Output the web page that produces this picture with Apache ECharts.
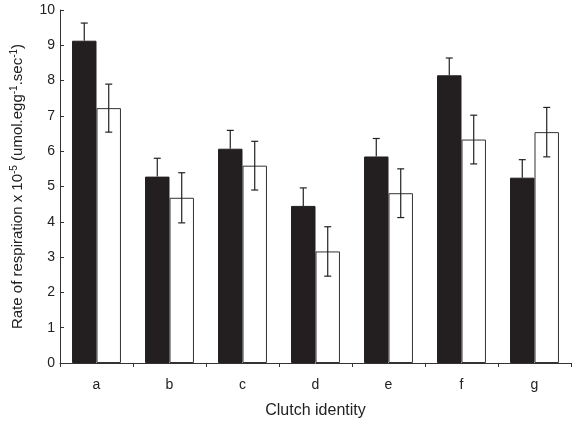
<!DOCTYPE html>
<html><head><meta charset="utf-8">
<script src="https://cdn.jsdelivr.net/npm/echarts@6/dist/echarts.min.js"></script>
<style>html,body{margin:0;padding:0;background:#fff}#c{width:581px;height:424px}</style>
</head><body><div id="c"></div>
<script>
var categories = ['a','b','c','d','e','f','g'];
var blackValues = [9.13, 5.28, 6.07, 4.45, 5.85, 8.15, 5.25];
var blackErrors = [0.50, 0.52, 0.52, 0.51, 0.51, 0.49, 0.51];
var whiteValues = [7.22, 4.68, 5.59, 3.16, 4.81, 6.33, 6.54];
var whiteErrors = [0.68, 0.71, 0.69, 0.70, 0.69, 0.69, 0.70];
var yTicks = [0,1,2,3,4,5,6,7,8,9,10];

var catGap = 0.33;
function errSeries(vals, errs, side){
  var data = vals.map(function(v,i){ return [i, v, errs[i]]; });
  return {
    type:'custom', z:10, silent:true,
    data:data,
    renderItem:function(params, api){
      var i = api.value(0), v = api.value(1), e = api.value(2);
      var cw = api.size([1,0])[0];
      var bw = cw*(1-catGap)/2;
      var c = api.coord([i, v]);
      var x = c[0] + side*bw/2;
      var top = api.coord([i, v+e])[1];
      var bot = api.coord([i, v-e])[1];
      var cap = 3.5;
      var st = {stroke:'#222', lineWidth:1.2};
      var children = [
        {type:'line', shape:{x1:x, y1:top, x2:x, y2:(side<0? c[1] : bot)}, style:st},
        {type:'line', shape:{x1:x-cap, y1:top, x2:x+cap, y2:top}, style:st}
      ];
      if(side>0) children.push({type:'line', shape:{x1:x-cap, y1:bot, x2:x+cap, y2:bot}, style:st});
      return {type:'group', children:children};
    }
  };
}

var chart = echarts.init(document.getElementById('c'), null, {renderer:'canvas'});
chart.setOption({
  animation:false,
  textStyle:{fontFamily:'Liberation Sans, Arial, sans-serif'},
  grid:{left:60, right:10, top:10, bottom:60, containLabel:false},
  xAxis:{
    type:'category', data:categories,
    axisLine:{lineStyle:{color:'#333', width:1}},
    axisTick:{show:true, length:4, lineStyle:{color:'#333'}},
    axisLabel:{color:'#222', fontSize:14, margin:15},
    name:'Clutch identity', nameLocation:'middle', nameGap:40,
    nameTextStyle:{color:'#222', fontSize:16}
  },
  yAxis:{
    type:'value', min:0, max:10, interval:1,
    splitLine:{show:false},
    axisLine:{show:true, lineStyle:{color:'#333', width:1}},
    axisTick:{show:true, inside:true, length:4, lineStyle:{color:'#333'}},
    axisLabel:{color:'#222', fontSize:14, margin:5, formatter:function(v){ return yTicks.indexOf(v)>=0 ? String(v) : ''; }},
    name:'Rate of respiration x 10{sup|-5} (umol.egg{sup|-1}.sec{sup|-1})',
    nameLocation:'middle', nameGap:33,
    nameTextStyle:{color:'#222', fontSize:15,
      rich:{sup:{fontSize:10, color:'#222', padding:[0,0,8,0]}}}
  },
  series:[
    {type:'bar', data:blackValues, barGap:'0%', barCategoryGap:(catGap*100)+'%',
     itemStyle:{color:'#231f20', borderColor:'#231f20', borderWidth:1}},
    {type:'bar', data:whiteValues, barGap:'0%', barCategoryGap:(catGap*100)+'%',
     itemStyle:{color:'#ffffff', borderColor:'#333', borderWidth:1}},
    errSeries(blackValues, blackErrors, -1),
    errSeries(whiteValues, whiteErrors, 1)
  ]
});
</script></body></html>
